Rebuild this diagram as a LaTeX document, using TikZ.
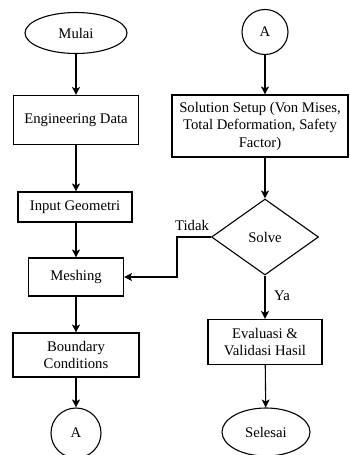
\documentclass[tikz,border=0pt]{standalone}
\usepackage{fontspec}
\setmainfont{Liberation Serif}
\usetikzlibrary{calc, shapes, arrows, arrows.meta}

\begin{document}
\begin{tikzpicture}[x=1pt, y=-1pt, line width=1.1pt, >={Stealth[length=8pt, width=8pt, inset=2pt]},
		boxnode/.style={draw, rectangle, inner sep=2pt, align=center, font=\fontsize{14.7}{17.5}\selectfont},
		ovalnode/.style={draw, ellipse, inner sep=0pt, font=\fontsize{14.7}{17.5}\selectfont},
		decnode/.style={draw, diamond, inner sep=0pt, font=\fontsize{14.7}{17.5}\selectfont},
		lblnode/.style={inner sep=0pt, font=\fontsize{14.7}{17.5}\selectfont}]
				\useasboundingbox (0,0) rectangle (350,455);
				%Left column
				\coordinate (cMulai) at (76,33);
				\coordinate (cEng) at (76,120);
				\coordinate (cGeo) at (75,207);
				\coordinate (cMesh) at (76,277);
				\coordinate (cBound) at (76,355);
				\coordinate (cAleft) at (76,433);
				\node (mulai) [ovalnode, minimum width=102pt, minimum height=41pt] at (cMulai) {Mulai};
				\node (eng) [boxnode, minimum width=125pt, minimum height=49pt] at (cEng) {Engineering Data};
				\node (geo) [boxnode, minimum width=114pt, minimum height=30pt] at (cGeo) {Input Geometri};
				\node (mesh) [boxnode, minimum width=95pt, minimum height=38pt] at (cMesh) {Meshing};
				\node (bound) [boxnode, minimum width=126pt, minimum height=44pt] at (cBound) {Boundary\\Conditions};
				\node (aleft) [ovalnode, minimum width=50pt, minimum height=50pt] at (cAleft) {A};
				%Right column
				\coordinate (cAright) at (265,32);
				\coordinate (cSol) at (260,126);
				\coordinate (cSolve) at (265,237);
				\coordinate (cEval) at (265,342);
				\coordinate (cSelesai) at (266,432);
				\node (aright) [ovalnode, minimum width=46pt, minimum height=45pt] at (cAright) {A};
				\node (sol) [boxnode, minimum width=176pt, minimum height=62pt] at (cSol) {Solution Setup (Von Mises,\\Total Deformation, Safety\\Factor)};
				\node (solve) [decnode, minimum width=107pt, minimum height=76pt] at (cSolve) {Solve};
				\node (eval) [boxnode, minimum width=114pt, minimum height=45pt] at (cEval) {Evaluasi \&\\Validasi Hasil};
				\node (selesai) [ovalnode, minimum width=88pt, minimum height=48pt] at (cSelesai) {Selesai};
				%Arrows left
				\draw [->] (mulai) -- (eng);
				\draw [->] (eng) -- (eng |- geo.north);
				\draw [->] (geo.south -| mesh) -- (mesh);
				\draw [->] (mesh) -- (bound);
				\draw [->] (bound) -- (aleft);
				%Arrows right
				\draw [->] (aright) -- (aright |- sol.north);
				\draw [->] (sol.south -| solve) -- (solve);
				\draw [->] (solve) -- (eval);
				\draw [->] (eval) -- (selesai);
				%Loop back
				\coordinate (bend) at (177,237);
				\draw [->] (solve.west) -- (bend) |- (mesh.east);
				\node (tidak) [lblnode] at (192,225) {Tidak};
				\node (ya) [lblnode] at (282,296) {Ya};
\end{tikzpicture}
\end{document}
